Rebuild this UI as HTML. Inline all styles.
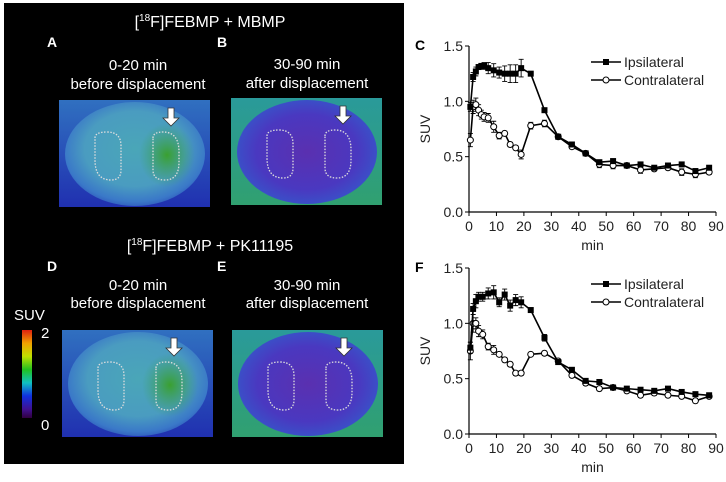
<!DOCTYPE html>
<html><head><meta charset="utf-8"><style>
html,body{margin:0;padding:0;background:#fff;}
svg{display:block;font-family:"Liberation Sans",sans-serif;}
</style></head><body>
<svg id="fig" width="726" height="482" viewBox="0 0 726 482">
<defs>
<radialGradient id="gA" cx="0.5" cy="0.45" r="0.6"><stop offset="0" stop-color="#4aa6b8"/><stop offset="0.6" stop-color="#4a9cc0"/><stop offset="0.85" stop-color="#3a78c8"/><stop offset="1" stop-color="#2a48b8"/></radialGradient>
<radialGradient id="gB" cx="0.5" cy="0.5" r="0.6"><stop offset="0" stop-color="#5a30b0"/><stop offset="0.6" stop-color="#4a38c0"/><stop offset="0.85" stop-color="#3a50c8"/><stop offset="1" stop-color="#3070c0"/></radialGradient>
<radialGradient id="gHot" cx="0.5" cy="0.5" r="0.5"><stop offset="0" stop-color="#3aa030"/><stop offset="1" stop-color="#3aa060" stop-opacity="0"/></radialGradient>
<linearGradient id="bgA" x1="0" y1="0" x2="0" y2="1"><stop offset="0" stop-color="#3070c0"/><stop offset="1" stop-color="#2030b0"/></linearGradient>
<linearGradient id="bgB" x1="0" y1="0" x2="0" y2="1"><stop offset="0" stop-color="#2a9a9a"/><stop offset="1" stop-color="#30a070"/></linearGradient>
<linearGradient id="cbar" x1="0" y1="0" x2="0" y2="1"><stop offset="0" stop-color="#e02010"/><stop offset="0.15" stop-color="#f0a000"/><stop offset="0.3" stop-color="#c0e000"/><stop offset="0.45" stop-color="#20c020"/><stop offset="0.6" stop-color="#10c0c0"/><stop offset="0.75" stop-color="#1030e0"/><stop offset="0.9" stop-color="#401090"/><stop offset="1" stop-color="#300040"/></linearGradient>
</defs>
<rect x="4" y="3" width="400" height="461" fill="#000"/>
<g fill="#fff" font-family="Liberation Sans, sans-serif">
<text x="210" y="27" font-size="16" text-anchor="middle">[<tspan font-size="10" dy="-6">18</tspan><tspan dy="6">F]FEBMP + MBMP</tspan></text>
<text x="47" y="47" font-size="14" font-weight="bold">A</text>
<text x="217" y="47" font-size="14" font-weight="bold">B</text>
<text x="138" y="70" font-size="15" text-anchor="middle">0-20 min</text>
<text x="138" y="89" font-size="15" text-anchor="middle">before displacement</text>
<text x="307" y="69" font-size="15" text-anchor="middle">30-90 min</text>
<text x="307" y="88" font-size="15" text-anchor="middle">after displacement</text>
<text x="210" y="251" font-size="16" text-anchor="middle">[<tspan font-size="10" dy="-6">18</tspan><tspan dy="6">F]FEBMP + PK11195</tspan></text>
<text x="47" y="271" font-size="14" font-weight="bold">D</text>
<text x="217" y="271" font-size="14" font-weight="bold">E</text>
<text x="138" y="290" font-size="15" text-anchor="middle">0-20 min</text>
<text x="138" y="308" font-size="15" text-anchor="middle">before displacement</text>
<text x="307" y="290" font-size="15" text-anchor="middle">30-90 min</text>
<text x="307" y="308" font-size="15" text-anchor="middle">after displacement</text>
<text x="14" y="320" font-size="15">SUV</text>
<text x="41" y="338" font-size="15">2</text>
<text x="41" y="430" font-size="15">0</text>
</g>
<rect x="22" y="330" width="10" height="88" fill="url(#cbar)"/>
<g id="brains"></g>
<g id="chartC"></g>
<g id="chartF"></g>
</svg>
<script>
const NS="http://www.w3.org/2000/svg";
function mk(p,tag,attrs){const e=document.createElementNS(NS,tag);for(const k in attrs)e.setAttribute(k,attrs[k]);p.appendChild(e);return e;}
const B=document.getElementById('brains');
const panels=[[59,100,'gA',true,'brain-a'],[231,98,'gB',false,'brain-b'],[62,330,'gA',true,'brain-d'],[232,330,'gB',false,'brain-e']];
panels.forEach(p=>{
 const [x,y,g,hot,name]=p;
 const grp=mk(B,'g',{});
 
 
 mk(grp,'rect',{x:x,y:y,width:151,height:107,fill:g==='gA'?'url(#bgA)':'url(#bgB)'});
 mk(grp,'ellipse',{cx:x+76,cy:y+54,rx:70,ry:52,fill:'url(#'+g+')'});
 if(hot) mk(grp,'ellipse',{cx:x+108,cy:y+55,rx:28,ry:32,fill:'url(#gHot)'});
 mk(grp,'path',{d:`M${x+36} ${y+38} q0 -6 12 -6 q14 0 14 14 v24 q0 10 -10 10 q-16 0 -16 -20 z`,fill:'none',stroke:'#ddd','stroke-width':1.3,'stroke-dasharray':'1.5 1.5'});
 mk(grp,'path',{d:`M${x+94} ${y+38} q0 -6 10 -6 q16 0 16 20 v10 q0 18 -14 18 q-12 0 -12 -10 z`,fill:'none',stroke:'#ddd','stroke-width':1.3,'stroke-dasharray':'1.5 1.5'});
 const ax=x+112,ay=y+8;
 const ar=mk(grp,'path',{d:`M${ax-3} ${ay} h6 v10 h5 l-8 8 l-8 -8 h5 z`,fill:'#fff',stroke:'#333','stroke-width':0.8});
 
 
});

const timesC=[0.5,1.5,2.5,3.5,4.5,5.5,7,9,11,13,15,17,19,22.5,27.5,32.5,37.5,42.5,47.5,52.5,57.5,62.5,67.5,72.5,77.5,82.5,87.5];
const ipsiC=[0.95,1.22,1.27,1.31,1.32,1.32,1.30,1.28,1.26,1.25,1.25,1.25,1.30,1.25,0.92,0.68,0.61,0.53,0.45,0.46,0.42,0.43,0.40,0.42,0.43,0.37,0.40];
const contraC=[0.65,0.95,0.97,0.92,0.88,0.86,0.85,0.77,0.69,0.71,0.61,0.58,0.52,0.78,0.80,0.68,0.59,0.53,0.43,0.42,0.42,0.38,0.39,0.40,0.36,0.34,0.36];
const ipsiErrC=[0.04,0.04,0.04,0.02,0.02,0.03,0.05,0.06,0.05,0.07,0.08,0.08,0.08,0.02,0.02,0.01,0.02,0.02,0.02,0.02,0.02,0.02,0.02,0.02,0.02,0.02,0.02];
const contraErrC=[0.06,0.06,0.06,0.05,0.04,0.04,0.04,0.05,0.03,0.02,0.02,0.02,0.04,0.03,0.03,0.01,0.02,0.02,0.03,0.03,0.02,0.03,0.02,0.02,0.03,0.03,0.02];
const timesF=[0.5,1.5,2.5,3.5,5,7,9,11,13,15,17,19,22.5,27.5,32.5,37.5,42.5,47.5,52.5,57.5,62.5,67.5,72.5,77.5,82.5,87.5];
const ipsiF=[0.78,1.13,1.20,1.24,1.24,1.27,1.28,1.19,1.26,1.16,1.21,1.19,1.12,0.87,0.65,0.58,0.48,0.47,0.42,0.41,0.40,0.39,0.41,0.38,0.36,0.35];
const contraF=[0.75,1.00,1.00,0.93,0.90,0.79,0.76,0.72,0.67,0.63,0.55,0.55,0.72,0.73,0.66,0.53,0.46,0.41,0.42,0.39,0.35,0.37,0.35,0.34,0.30,0.34];
const ipsiErrF=[0.05,0.05,0.06,0.04,0.04,0.05,0.06,0.04,0.05,0.05,0.05,0.05,0.02,0.03,0.02,0.02,0.02,0.02,0.01,0.01,0.02,0.02,0.02,0.02,0.02,0.02];
const contraErrF=[0.08,0.08,0.05,0.05,0.04,0.03,0.04,0.02,0.02,0.02,0.02,0.02,0.01,0.02,0.01,0.02,0.02,0.02,0.01,0.02,0.02,0.02,0.02,0.01,0.02,0.01];
const xTicks=[0,10,20,30,40,50,60,70,80,90];
const yTicks=[0.0,0.5,1.0,1.5];
const yTickLabels=['0.0','0.5','1.0','1.5'];

function chart(gid,letter,y0,times,ipsi,contra,ie,ce){
 const G=document.getElementById(gid);
 const x0=469,x1=716,yTop=y0-166;
 const sx=t=>x0+(x1-x0)*t/90, sy=v=>y0-166*v/1.5;
 const ax=mk(G,'path',{d:`M${x0} ${yTop} V${y0} H${x1}`,fill:'none',stroke:'#000','stroke-width':1.2});
 
 yTicks.forEach((v,i)=>{mk(G,'line',{x1:x0-4,x2:x0,y1:sy(v),y2:sy(v),stroke:'#000'});
  const t=mk(G,'text',{x:x0-6,y:sy(v)+5,'font-size':14,'text-anchor':'end',fill:'#222'});t.textContent=yTickLabels[i];
  });
 xTicks.forEach(v=>{mk(G,'line',{x1:sx(v),x2:sx(v),y1:y0,y2:y0+4,stroke:'#000'});
  const t=mk(G,'text',{x:sx(v),y:y0+19,'font-size':14,'text-anchor':'middle',fill:'#222'});t.textContent=v;
  });
 let t=mk(G,'text',{x:sx(45),y:y0+38,'font-size':14,'text-anchor':'middle',fill:'#222'});t.textContent='min';
 
 t=mk(G,'text',{x:0,y:0,'font-size':14,'text-anchor':'middle',fill:'#222',transform:`translate(430,${sy(0.75)}) rotate(-90)`});t.textContent='SUV';
 
 t=mk(G,'text',{x:415,y:sy(1.5)+4,'font-size':14,'font-weight':'bold',fill:'#000'});t.textContent=letter;
 
 function series(vals,errs,filled,name){
  const sg=mk(G,'g',{});
  vals.forEach((v,i)=>{mk(sg,'path',{d:`M${sx(times[i])} ${sy(v-errs[i])} V${sy(v+errs[i])} M${sx(times[i])-2.5} ${sy(v+errs[i])} h5 M${sx(times[i])-2.5} ${sy(v-errs[i])} h5`,stroke:'#000','stroke-width':0.9,fill:'none'});});
  mk(sg,'polyline',{points:vals.map((v,i)=>sx(times[i])+','+sy(v)).join(' '),fill:'none',stroke:'#000','stroke-width':1.6});
  vals.forEach((v,i)=>{
   const m=filled?mk(sg,'rect',{x:sx(times[i])-3,y:sy(v)-3,width:6,height:6,fill:'#000'}):mk(sg,'circle',{cx:sx(times[i]),cy:sy(v),r:3,fill:'#fff',stroke:'#000','stroke-width':1});
   
  });
 }
 series(contra,ce,false,'contralateral-series');
 series(ipsi,ie,true,'ipsilateral-series');
 const ly=yTop+16;
 const l1=mk(G,'g',{});
 mk(l1,'line',{x1:591,x2:621,y1:ly,y2:ly,stroke:'#000','stroke-width':1.6});mk(l1,'rect',{x:603,y:ly-3,width:6,height:6,fill:'#000'});
 t=mk(l1,'text',{x:624,y:ly+5,'font-size':14,fill:'#222'});t.textContent='Ipsilateral';
 const l2=mk(G,'g',{});
 mk(l2,'line',{x1:591,x2:621,y1:ly+18,y2:ly+18,stroke:'#000','stroke-width':1.6});mk(l2,'circle',{cx:606,cy:ly+18,r:3,fill:'#fff',stroke:'#000'});
 t=mk(l2,'text',{x:624,y:ly+23,'font-size':14,fill:'#222'});t.textContent='Contralateral';
}
chart('chartC','C',212,timesC,ipsiC,contraC,ipsiErrC,contraErrC);
chart('chartF','F',434,timesF,ipsiF,contraF,ipsiErrF,contraErrF);
</script>
</body></html>
